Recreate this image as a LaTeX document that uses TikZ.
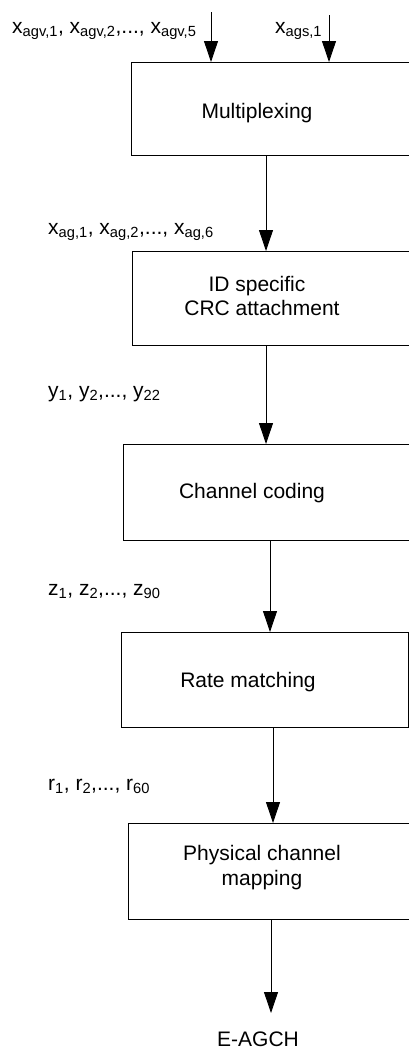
\documentclass[tikz,border=0pt]{standalone}
\usepackage{fontspec}
\setmainfont{Liberation Sans}
\usetikzlibrary{arrows.meta}
\tikzset{
  blk/.style={draw=black, line width=0.9pt, anchor=north west, inner sep=0pt},
  txt/.style={font=\fontsize{21}{24}\selectfont, inner sep=0pt},
  lbl/.style={txt, anchor=base west},
  flow/.style={line width=0.9pt, -{Triangle[length=21pt,width=14pt]}}
}
\newcommand{\sub}[1]{\textsubscript{#1}}
\begin{document}
\begin{tikzpicture}[x=1pt,y=-1pt]
\clip (0,0) rectangle (409,1052);
\fill[white] (0,0) rectangle (409,1052);

% boxes
\node[blk, minimum width=284pt, minimum height=93pt] (mux) at (131,62) {};
\node[blk, minimum width=283pt, minimum height=94pt] (crc) at (132,251) {};
\node[blk, minimum width=292pt, minimum height=96pt] (cc) at (123,444) {};
\node[blk, minimum width=287pt, minimum height=95pt] (rm) at (121,632) {};
\node[blk, minimum width=287pt, minimum height=96pt] (pcm) at (128,823) {};

% box texts
\node[txt, anchor=base] (tmux) at (257,118) {Multiplexing};
\node[txt, anchor=base] (tcrc1) at (257,291) {ID specific};
\node[txt, anchor=base] (tcrc2) at (262,315) {CRC attachment};
\node[txt, anchor=base] (tcc) at (252,498) {Channel coding};
\node[txt, anchor=base] (trm) at (248,687) {Rate matching};
\node[txt, anchor=base] (tpcm1) at (262,860) {Physical channel};
\node[txt, anchor=base] (tpcm2) at (262,885) {mapping};
\node[txt, anchor=base] (out) at (258,1046) {E-AGCH};

% labels
\node[lbl] (lagv) at (12,33) {x\sub{agv,1}, x\sub{agv,2},..., x\sub{agv,5}};
\node[lbl] (lags) at (275,33) {x\sub{ags,1}};
\node[lbl] (lag) at (48,234) {x\sub{ag,1}, x\sub{ag,2},..., x\sub{ag,6}};
\node[lbl] (ly) at (48,397) {y\sub{1}, y\sub{2},..., y\sub{22}};
\node[lbl] (lz) at (48,595) {z\sub{1}, z\sub{2},..., z\sub{90}};
\node[lbl] (lr) at (48,790) {r\sub{1}, r\sub{2},..., r\sub{60}};

% connector coordinates
\coordinate (in1) at (211,12);
\coordinate (in2) at (329,15);
\coordinate (c1) at (266,0);
\coordinate (c2) at (266,0);
\coordinate (c3) at (270,0);
\coordinate (c4) at (273,0);
\coordinate (c5) at (271,0);
\coordinate (outtip) at (271,1013);

% connectors
\draw[flow] (in1) -- (in1 |- mux.north);
\draw[flow] (in2) -- (in2 |- mux.north);
\draw[flow] (c1 |- mux.south) -- (c1 |- crc.north);
\draw[flow] (c2 |- crc.south) -- (c2 |- cc.north);
\draw[flow] (c3 |- cc.south) -- (c3 |- rm.north);
\draw[flow] (c4 |- rm.south) -- (c4 |- pcm.north);
\draw[flow] (c5 |- pcm.south) -- (outtip);
\end{tikzpicture}
\end{document}
